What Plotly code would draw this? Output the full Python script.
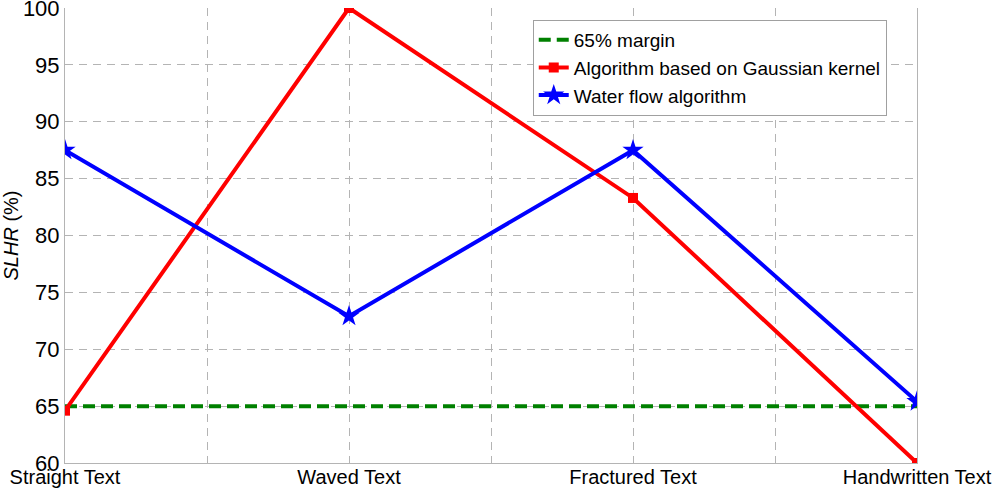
import plotly.graph_objects as go

categories = ["Straight Text", "Waved Text", "Fractured Text", "Handwritten Text"]
margin_values = [65, 65, 65, 65]
gaussian_values = [64.6, 100, 83.3, 60]
waterflow_values = [87.5, 72.9, 87.5, 65.4]

x = list(range(1, len(categories) + 1))

fig = go.Figure()
fig.add_trace(go.Scatter(
    x=x, y=margin_values, mode="lines", name="65% margin",
    line=dict(color="#008000", width=4, dash="12px,6px")))
fig.add_trace(go.Scatter(
    x=x, y=gaussian_values, mode="lines+markers", name="Algorithm based on Gaussian kernel",
    line=dict(color="#ff0000", width=4),
    marker=dict(symbol="square", size=10, color="#ff0000")))
fig.add_trace(go.Scatter(
    x=x, y=waterflow_values, mode="lines+markers", name="Water flow algorithm",
    line=dict(color="#0000ff", width=4),
    marker=dict(symbol="star", size=16, color="#0000ff")))

grid = dict(gridcolor="#b4b4b4", griddash="8px,6px", gridwidth=1)
fig.update_layout(
    width=1000, height=491,
    margin=dict(l=65, r=83, t=8, b=28, autoexpand=False),
    paper_bgcolor="white", plot_bgcolor="white",
    font=dict(family="Liberation Sans, Arial, sans-serif", size=21, color="black"),
    showlegend=True,
    legend=dict(x=0.549, y=0.974, xanchor="left", yanchor="top",
                bgcolor="white", bordercolor="#a0a0a0", borderwidth=1,
                font=dict(size=19), itemwidth=30, tracegroupgap=0),
    xaxis=dict(range=[1, 4], tickvals=x, ticktext=categories, tickfont=dict(size=20),
               automargin=False, ticklabeloverflow="allow", ticklabelstandoff=-4,
               showline=True, linecolor="#b4b4b4", linewidth=1, zeroline=False,
               ticks="", **grid,
               minor=dict(dtick=0.5, showgrid=True, gridcolor="#b4b4b4", griddash="8px,6px")),
    yaxis=dict(range=[60, 100], dtick=5, tickfont=dict(size=22),
               automargin=False, ticklabeloverflow="allow", ticklabelstandoff=0,
               title=dict(text="<i>SLHR</i> (%)", font=dict(size=20), standoff=8),
               showline=True, linecolor="#b4b4b4", linewidth=1, mirror=True,
               zeroline=False, ticks="", **grid),
)

fig.write_html("out.html", config={"displayModeBar": False},
               post_script="document.body.style.margin='0';document.body.style.overflow='hidden';")
